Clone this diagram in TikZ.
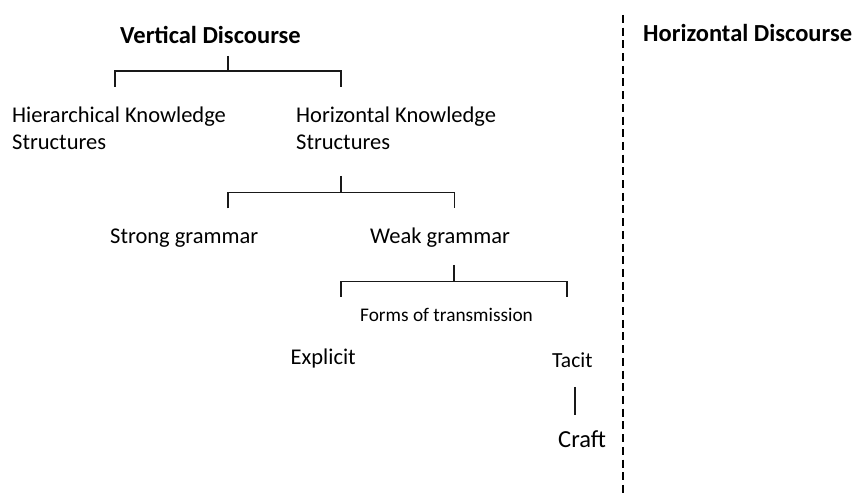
\documentclass[tikz,border=0pt]{standalone}
\usepackage{fontspec}
\setmainfont{Carlito}
\begin{document}
\begin{tikzpicture}[x=1pt,y=-1pt,
  lbl/.style={inner sep=0pt,anchor=base west,font=\fontsize{22.5}{27}\selectfont,align=left},
  head/.style={inner sep=0pt,anchor=base,font=\fontsize{24.5}{29}\selectfont\bfseries},
  tree/.style={line width=1.2pt,draw=black!90},
  divider/.style={line width=2pt,dash pattern=on 8pt off 4.7pt}]
\useasboundingbox (0,0) rectangle (860,494);

% headings
\node[head] (vd) at (210.5,44) {Vertical Discourse};
\node[head,anchor=base west] (hd) at (643,42) {Horizontal Discourse};

% knowledge structures (two lines, anchored on the last baseline)
\node[lbl] (hier) at (12,150) {Hierarchical Knowledge\\Structures};
\node[lbl] (horz) at (296,150) {Horizontal Knowledge\\Structures};

% grammars
\node[lbl] (strong) at (110,244) {Strong grammar};
\node[lbl] (weak) at (370,244) {Weak grammar};

% transmission
\node[lbl,font=\fontsize{19.3}{23}\selectfont] (forms) at (360,322) {Forms of transmission};
\node[lbl] (explicit) at (290.5,365) {Explicit};
\node[lbl,font=\fontsize{21.5}{26}\selectfont] (tacit) at (552,367.5) {Tacit};
\node[lbl,font=\fontsize{24.5}{29}\selectfont] (craft) at (558,447) {Craft};

% bracket: Vertical Discourse
\coordinate (vdStem) at (228,56);
\coordinate (hierLeg) at (115,87);
\coordinate (horzLeg) at (341,87);
\draw[tree] (vdStem) -- ++(0,15) coordinate (vdBar);
\draw[tree] (hierLeg) |- (vdBar) -| (horzLeg);

% bracket: Horizontal Knowledge Structures
\coordinate (horzStem) at (341,176);
\coordinate (strongLeg) at (228,208.5);
\coordinate (weakLeg) at (454.5,208.5);
\draw[tree] (horzStem) -- ++(0,16.3) coordinate (horzBar);
\draw[tree] (strongLeg) |- (horzBar) -| (weakLeg);

% bracket: Weak grammar
\coordinate (weakStem) at (454,265);
\coordinate (explicitLeg) at (341,297);
\coordinate (tacitLeg) at (567,297);
\draw[tree] (weakStem) -- ++(0,16.7) coordinate (weakBar);
\draw[tree] (explicitLeg) |- (weakBar) -| (tacitLeg);

% Tacit to Craft
\coordinate (tacitFoot) at (575,387);
\coordinate (craftHead) at (575,415);
\draw[tree] (tacitFoot) -- (craftHead);

% divider between the two discourses
\coordinate (divTop) at (623,15);
\coordinate (divBot) at (623,494);
\draw[divider] (divTop) -- (divBot);
\end{tikzpicture}
\end{document}
